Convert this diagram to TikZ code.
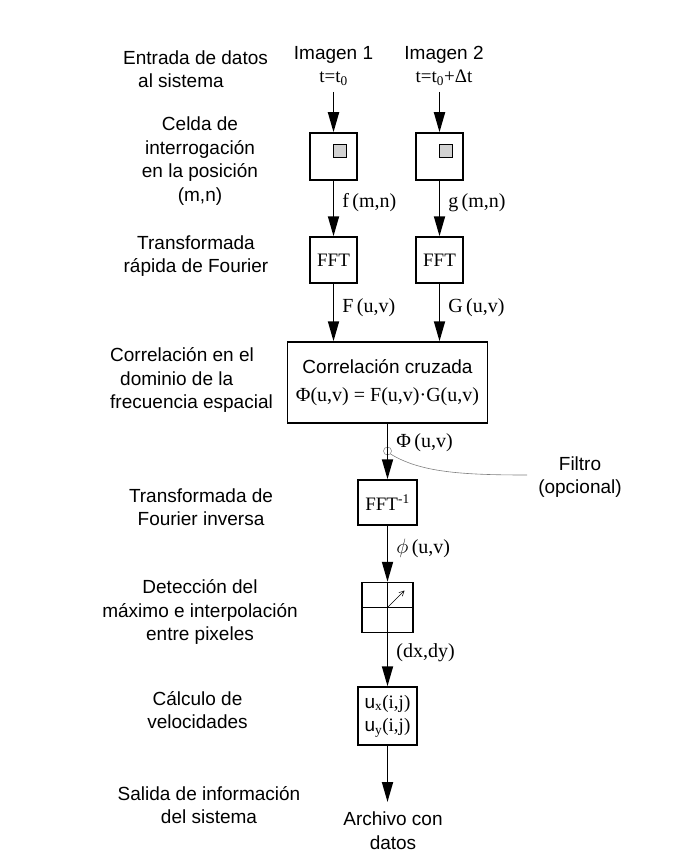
\documentclass[tikz,border=0pt]{standalone}
\usepackage{fontspec}
\setmainfont{Liberation Sans}
\newfontfamily\srf{Liberation Serif}
\usetikzlibrary{arrows.meta}
\begin{document}
\begin{tikzpicture}[x=1pt,y=-1pt,
  every node/.style={font=\fontsize{19}{23.5}\selectfont},
  box/.style={draw, line width=1.5pt, inner sep=0pt, align=center},
  arr/.style={line width=1.8pt, -{Triangle[length=20pt,width=11pt]}},
  lab/.style={font=\srf\fontsize{20}{24}\selectfont, anchor=west, inner sep=0pt, xshift=8pt},
  side/.style={align=center, inner sep=0pt},
  sidel/.style={align=left, anchor=west, inner sep=0pt}]
\useasboundingbox (0,0) rectangle (686,861);

% left descriptions
\node[sidel] (t1) at (123,69) {Entrada de datos\\\hspace*{15pt}al sistema};
\node[side] (t2) at (200,161) {Celda de\\interrogación\\en la posición\\(m,n)};
\node[side] (t3) at (196,256) {Transformada\\rápida de Fourier};
\node[sidel] (t4) at (110,380) {Correlación en el\\\hspace*{10pt}dominio de la\\frecuencia espacial};
\node[side] (t5) at (201,507) {Transformada de\\Fourier inversa};
\node[side] (t6) at (200,612) {Detección del\\máximo e interpolación\\entre pixeles};
\node[side] (t7) at (197.5,710) {Cálculo de\\velocidades};
\node[side] (t8) at (209,805) {Salida de información\\del sistema};

% inputs
\node[side] (i1) at (333.5,66) {Imagen 1\\[-1pt]{\srf t=t\textsubscript{0}}};
\node[side] (i2) at (444,66) {Imagen 2\\[-1pt]{\srf t=t\textsubscript{0}+Δt}};
\coordinate (s1) at (333.5,92);
\coordinate (s2) at (439.5,92);

% boxes
\node[box, minimum width=47pt, minimum height=47pt] (c1) at (333.5,156.5) {};
\node[box, minimum width=47pt, minimum height=47pt] (c2) at (439.5,156.5) {};
\node[draw, line width=0.5pt, fill=gray!35, minimum size=13pt, inner sep=0pt] (g1) at (339.5,150.5) {};
\node[draw, line width=0.5pt, fill=gray!35, minimum size=13pt, inner sep=0pt] (g2) at (445.5,150.5) {};

\node[box, minimum width=47pt, minimum height=46pt, font=\srf\fontsize{19}{23}\selectfont] (f1) at (333.5,260) {FFT};
\node[box, minimum width=47pt, minimum height=46pt, font=\srf\fontsize{19}{23}\selectfont] (f2) at (439.5,260) {FFT};

\node[box, minimum width=200pt, minimum height=81pt] (cor) at (387.5,382.5)
  {Correlación cruzada\\[5pt]{\srf\fontsize{20}{24}\selectfont Φ(u,v) = F(u,v)·G(u,v)}};

\node[box, minimum width=59pt, minimum height=45pt, font=\srf\fontsize{19}{23}\selectfont] (inv) at (387.5,502.5) {FFT\textsuperscript{-1}};

\node[box, minimum width=51pt, minimum height=50pt] (det) at (387.5,607.5) {};
\draw[line width=0.5pt] (det.west) -- (det.east);
\draw[line width=0.5pt] (det.north) -- (det.south);
\draw[line width=0.5pt, -{Straight Barb[length=5pt,width=5pt]}] (det.center) -- ++(17,-17);

\node[box, minimum width=59pt, minimum height=58pt] (u) at (387.5,716)
  {u{\srf\textsubscript{x}(i,j)}\\u{\srf\textsubscript{y}(i,j)}};

\node[side, anchor=north, inner ysep=10pt] (out) at (393,802) {Archivo con\\datos};

% filter
\node[circle, draw=gray, line width=0.5pt, minimum size=8pt, inner sep=0pt] (fc) at (387.5,451) {};
\node[side] (filt) at (580,477) {Filtro\\(opcional)};
\coordinate (fe) at (527,475);
\draw[gray, line width=0.6pt] (fc.south east) .. controls (420,472) and (460,475) .. (fe);

% connectors
\draw[arr] (s1) -- (c1);
\draw[arr] (s2) -- (c2);
\draw[arr] (c1) -- node[lab,pos=0.4]{f\,(m,n)} (f1);
\draw[arr] (c2) -- node[lab,pos=0.4]{g\,(m,n)} (f2);
\draw[arr] (f1) -- node[lab,pos=0.41]{F\,(u,v)} (f1 |- cor.north);
\draw[arr] (f2) -- node[lab,pos=0.41]{G\,(u,v)} (f2 |- cor.north);
\draw[arr] (cor) -- node[lab,pos=0.35]{Φ\,(u,v)} (inv);
\draw[arr] (inv) -- node[lab,pos=0.4]{$\phi$\,(u,v)} (det);
\draw[arr] (det) -- node[lab,pos=0.36]{(dx,dy)} (u);
\draw[arr] (u.south) -- (u.south |- out.north);
\end{tikzpicture}
\end{document}
